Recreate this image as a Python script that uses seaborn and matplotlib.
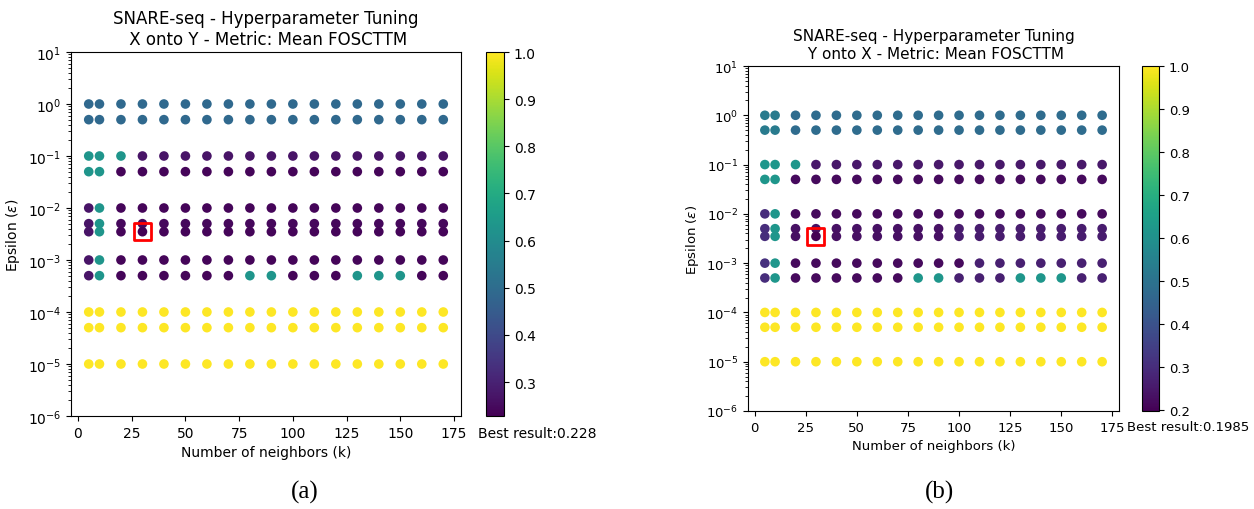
import numpy as np
import pandas as pd
import matplotlib
matplotlib.use("Agg")
import matplotlib.pyplot as plt
import seaborn as sns

# ---------------- data ----------------
k_values = [5, 10, 20, 30, 40, 50, 60, 70, 80, 90, 100, 110, 120, 130, 140, 150, 160, 170]
eps_values = [1.0, 0.5, 0.1, 0.05, 0.01, 0.005, 0.0035, 0.001, 0.0005, 0.0001, 0.00005, 0.00001]

# Panel (a): X onto Y  (one list per epsilon row, one value per k)
xy_eps_1 = [0.49] * 18
xy_eps_05 = [0.49] * 18
xy_eps_01 = [0.63, 0.63, 0.63] + [0.27] * 15
xy_eps_005 = [0.63, 0.63] + [0.24] * 16
xy_eps_001 = [0.27, 0.63] + [0.24] * 16
xy_eps_0005 = [0.27, 0.63] + [0.245] * 16
xy_eps_00035 = [0.27, 0.63, 0.24, 0.228] + [0.24] * 14
xy_eps_0001 = [0.27, 0.63] + [0.24] * 16
xy_eps_00005 = [0.27, 0.63, 0.24, 0.24, 0.24, 0.24, 0.24, 0.24, 0.63, 0.63,
                0.24, 0.24, 0.24, 0.63, 0.63, 0.63, 0.24, 0.24]
xy_eps_1e4 = [1.0] * 18
xy_eps_5e5 = [1.0] * 18
xy_eps_1e5 = [1.0] * 18

# Panel (b): Y onto X
yx_eps_1 = [0.53, 0.53] + [0.48] * 16
yx_eps_05 = [0.53, 0.53] + [0.48] * 16
yx_eps_01 = [0.62, 0.62, 0.62] + [0.25] * 15
yx_eps_005 = [0.62, 0.62] + [0.22] * 16
yx_eps_001 = [0.30, 0.62] + [0.22] * 16
yx_eps_0005 = [0.30, 0.62] + [0.235] * 8 + [0.26] * 8
yx_eps_00035 = [0.30, 0.62, 0.23, 0.1985] + [0.23] * 6 + [0.26] * 8
yx_eps_0001 = [0.31, 0.62] + [0.22] * 9 + [0.27] * 7
yx_eps_00005 = [0.30, 0.62, 0.22, 0.22, 0.22, 0.22, 0.22, 0.22, 0.62, 0.62,
                0.27, 0.27, 0.27, 0.62, 0.62, 0.62, 0.27, 0.27]
yx_eps_1e4 = [1.0] * 18
yx_eps_5e5 = [1.0] * 18
yx_eps_1e5 = [1.0] * 18

xy_scores = [xy_eps_1, xy_eps_05, xy_eps_01, xy_eps_005, xy_eps_001, xy_eps_0005,
             xy_eps_00035, xy_eps_0001, xy_eps_00005, xy_eps_1e4, xy_eps_5e5, xy_eps_1e5]
yx_scores = [yx_eps_1, yx_eps_05, yx_eps_01, yx_eps_005, yx_eps_001, yx_eps_0005,
             yx_eps_00035, yx_eps_0001, yx_eps_00005, yx_eps_1e4, yx_eps_5e5, yx_eps_1e5]

best_k = [30, 30]
best_eps = [0.0035, 0.0035]
best_value = [0.228, 0.1985]
best_label = ["0.228", "0.1985"]
titles = ["SNARE-seq - Hyperparameter Tuning\n X onto Y - Metric: Mean FOSCTTM",
          "SNARE-seq - Hyperparameter Tuning\n Y onto X - Metric: Mean FOSCTTM"]
captions = ["(a)", "(b)"]

# ---------------- figure ----------------
W, H = 1254, 510
fig = plt.figure(figsize=(W / 100, H / 100), dpi=100)


def frac(x0, y_top, w, h):
    return [x0 / W, (H - y_top - h) / H, w / W, h / H]


layouts = [
    dict(ax=frac(71, 53, 390, 364), cax=frac(486, 53, 18, 364), fs=10, tfs=12,
         best_xy=(478, 427), cap_xy=(305, 492)),
    dict(ax=frac(748, 67, 371, 345), cax=frac(1142, 67, 17, 345), fs=9.5, tfs=11,
         best_xy=(1127, 421), cap_xy=(940, 492)),
]

for i, scores in enumerate([xy_scores, yx_scores]):
    L = layouts[i]
    ax = fig.add_axes(L["ax"])
    cax = fig.add_axes(L["cax"])
    df = pd.DataFrame({
        "k": np.tile(k_values, len(eps_values)),
        "eps": np.repeat(eps_values, len(k_values)),
        "score": np.array(scores).ravel(),
    })
    norm = plt.Normalize(best_value[i], 1.0)
    sns.scatterplot(data=df, x="k", y="eps", hue="score", palette="viridis",
                    hue_norm=norm, s=48, linewidth=0, legend=False, ax=ax)
    ax.scatter([best_k[i]], [best_eps[i]], marker="s", s=150, facecolors="none",
               edgecolors="red", linewidths=2, zorder=5)
    ax.set_yscale("log")
    ax.set_ylim(1e-6, 1e1)
    ax.set_xticks([0, 25, 50, 75, 100, 125, 150, 175])
    ax.tick_params(labelsize=L["fs"])
    ax.set_xlabel("Number of neighbors (k)", fontsize=L["fs"])
    ax.set_ylabel(r"Epsilon ($\epsilon$)", fontsize=L["fs"])
    ax.set_title(titles[i], fontsize=L["tfs"])

    sm = plt.cm.ScalarMappable(norm=norm, cmap="viridis")
    cb = fig.colorbar(sm, cax=cax)
    cb.ax.tick_params(labelsize=L["fs"])

    bx, by = L["best_xy"]
    fig.text(bx / W, 1 - by / H, "Best result:" + best_label[i], ha="left", va="top",
             fontsize=L["fs"])
    cx, cy = L["cap_xy"]
    fig.text(cx / W, 1 - cy / H, captions[i], ha="center", va="center",
             fontsize=18, family="Liberation Serif")

fig.savefig("out.png", dpi=100)
